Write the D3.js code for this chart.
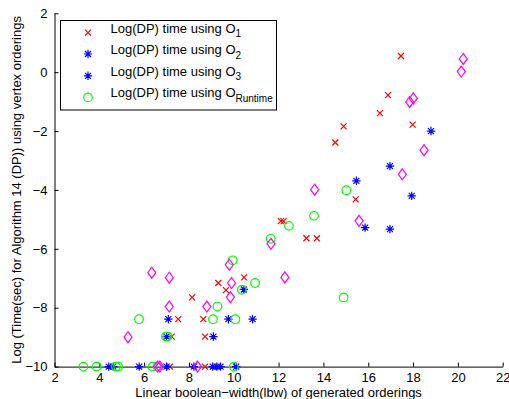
<!DOCTYPE html>
<html>
<head>
<meta charset="utf-8">
<script src="https://cdn.jsdelivr.net/npm/d3@7/dist/d3.min.js"></script>
<style>
  html, body { margin: 0; padding: 0; background: #fff; }
  text { font-family: "Liberation Sans", Arial, Helvetica, sans-serif; }
</style>
</head>
<body>
<svg id="chart" width="509" height="399"></svg>
<script>
// ---------- data ----------
const xTicks = [2, 4, 6, 8, 10, 12, 14, 16, 18, 20, 22];
const yTicks = [-10, -8, -6, -4, -2, 0, 2];

const seriesO1 = [
  [17.46, 0.55], [16.88, -0.78], [16.52, -1.39], [14.9, -1.84], [14.53, -2.39],
  [17.98, -1.78], [15.44, -4.32], [13.24, -5.64], [13.71, -5.64], [12.1, -5.06],
  [12.22, -5.06], [9.31, -7.16], [10.46, -6.97], [9.65, -7.4], [8.14, -7.65],
  [7.52, -8.39], [8.64, -8.39], [8.72, -8.98], [7.23, -8.98], [7.15, -10], [8.72, -10]
];
const seriesO2 = [
  [18.8, -2.0], [16.97, -3.19], [15.47, -3.69], [17.94, -4.2], [10.45, -7.38],
  [9.76, -8.39], [7.0, -8.98], [4.42, -10], [5.78, -10], [8.22, -10], [9.24, -10]
];
const seriesO3 = [
  [15.86, -5.28], [16.97, -5.33], [7.08, -8.39], [10.84, -8.39], [9.09, -8.98],
  [4.62, -10], [7.0, -10], [9.06, -10], [9.41, -10], [10.11, -10]
];
const seriesRuntime = [
  [15.02, -4.01], [13.58, -4.88], [12.46, -5.22], [11.65, -5.66], [9.95, -6.39],
  [10.36, -7.39], [10.95, -7.16], [14.9, -7.65], [9.27, -7.96], [5.77, -8.39],
  [9.07, -8.39], [10.07, -8.39], [6.97, -8.98], [7.05, -8.98],
  [3.29, -10], [3.88, -10], [4.74, -10], [4.84, -10], [6.37, -10], [6.59, -10], [10.0, -10]
];
const seriesOther = [
  [20.24, 0.45], [20.15, 0.02], [18.01, -0.89], [17.85, -1.01], [18.49, -2.65],
  [17.52, -3.47], [13.61, -3.99], [15.59, -5.05], [11.66, -5.83], [9.8, -6.54],
  [6.34, -6.81], [7.12, -6.98], [12.28, -6.97], [9.9, -7.16], [9.85, -7.64],
  [7.12, -7.96], [8.8, -7.96], [5.28, -9.0], [6.6, -10], [6.7, -10], [8.38, -10]
];
const legendLabels = [
  ["Log(DP) time using O", "1"],
  ["Log(DP) time using O", "2"],
  ["Log(DP) time using O", "3"],
  ["Log(DP) time using O", "Runtime"]
];
const xTitle = "Linear boolean\u2212width(lbw) of generated orderings";
const yTitle = "Log (Time(sec) for Algorithm 14 (DP)) using vertex orderings";

// ---------- layout ----------
const svg = d3.select("#chart");
const pL = 54.5, pR = 502.7, pT = 13.3, pB = 366.6;
const x = d3.scaleLinear().domain([2, 22]).range([pL, pR]);
const y = d3.scaleLinear().domain([-10, 2]).range([pB, pT]);

const fmt = d => (d < 0 ? "\u2212" + Math.abs(d) : String(d));

// axes
const xAxis = d3.axisBottom(x).tickValues(xTicks).tickSizeInner(-4).tickSizeOuter(0).tickPadding(6).tickFormat(fmt);
const yAxis = d3.axisLeft(y).tickValues(yTicks).tickSizeInner(-4).tickSizeOuter(0).tickPadding(8).tickFormat(fmt);

const gx = svg.append("g").attr("transform", `translate(0,${pB})`).call(xAxis);
const gy = svg.append("g").attr("transform", `translate(${pL},0)`).call(yAxis);
[gx, gy].forEach(g => {
  g.select(".domain").attr("stroke", "#000").attr("stroke-width", 1);
  g.selectAll(".tick line").attr("stroke", "#000").attr("stroke-width", 1);
  g.selectAll(".tick text").attr("fill", "#000").style("font-size", "13px")
    .style("font-family", '"Liberation Sans", Arial, sans-serif');
});
gy.selectAll(".tick text").attr("dx", "1");

// axis titles
svg.append("text").attr("x", (pL + pR) / 2).attr("y", 397)
  .attr("text-anchor", "middle").style("font-size", "13px").text(xTitle);
svg.append("text").attr("transform", `translate(21,${(pT + pB) / 2}) rotate(-90)`)
  .attr("text-anchor", "middle").style("font-size", "13px").text(yTitle);

// marker shapes
const markers = {
  cross: "M-3,-3L3,3M-3,3L3,-3",
  star: "M-4.2,0L4.2,0M0,-4.2L0,4.2M-3,-3L3,3M-3,3L3,-3",
  diamond: "M0,-5.5L4,0L0,5.5L-4,0Z"
};
function drawMarker(g, type, color) {
  if (type === "circle") {
    g.append("circle").attr("r", 4.3).attr("fill", "none").attr("stroke", color).attr("stroke-width", 1.2);
  } else {
    g.append("path").attr("d", markers[type]).attr("fill", "none").attr("stroke", color).attr("stroke-width", 1.2);
  }
}

const allSeries = [
  { data: seriesO1, type: "cross", color: "#ff0000" },
  { data: seriesO2, type: "star", color: "#0000ff" },
  { data: seriesO3, type: "star", color: "#0000ff" },
  { data: seriesRuntime, type: "circle", color: "#00ff00" },
  { data: seriesOther, type: "diamond", color: "#ff00ff" }
];

allSeries.forEach(s => {
  svg.append("g").selectAll("g").data(s.data).join("g")
    .attr("transform", d => `translate(${x(d[0])},${y(d[1])})`)
    .each(function () { drawMarker(d3.select(this), s.type, s.color); });
});

// legend
const lg = svg.append("g");
lg.append("rect").attr("x", 60.5).attr("y", 20.5).attr("width", 216).attr("height", 89.5)
  .attr("fill", "#fff").attr("stroke", "#000").attr("stroke-width", 1);
const rowY = [32.6, 54, 75.8, 97.4];
legendLabels.forEach((lab, i) => {
  const s = allSeries[i];
  const m = lg.append("g").attr("transform", `translate(88,${rowY[i]})`);
  drawMarker(m, s.type, s.color);
  const t = lg.append("text").attr("x", 110.5).attr("y", rowY[i]).style("font-size", "13px").attr("fill", "#000");
  t.append("tspan").text(lab[0]);
  t.append("tspan").attr("dy", 4.5).style("font-size", "10px").text(lab[1]);
});
</script>
</body>
</html>
